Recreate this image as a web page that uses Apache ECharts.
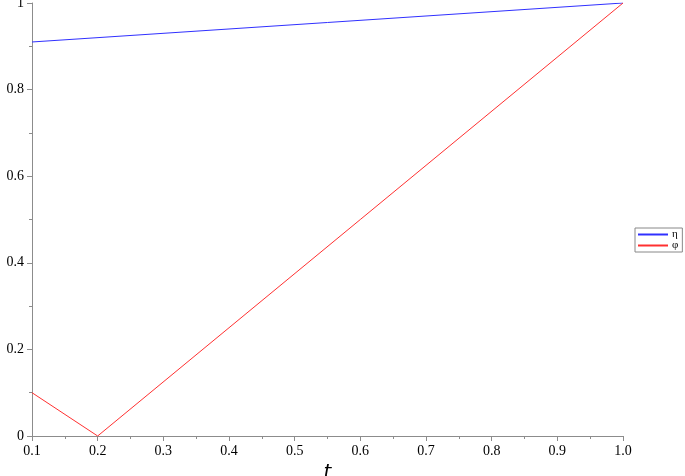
<!DOCTYPE html>
<html>
<head>
<meta charset="utf-8">
<script src="https://cdn.jsdelivr.net/npm/echarts@6/dist/echarts.min.js"></script>
<style>
  html, body { margin: 0; padding: 0; background: #fff; }
  #chart { width: 685px; height: 476px; }
</style>
</head>
<body>
<div id="chart"></div>
<script>
// data
var etaPoints = [[0.1, 0.91], [1.0, 1.0]];
var phiPoints = [[0.1, 0.1], [0.2, 0.0], [1.0, 1.0]];
var seriesNames = ["η", "φ"];

var chart = echarts.init(document.getElementById("chart"));
var axisGray = "#8c8c8c";
var serif = "'Liberation Serif', 'DejaVu Serif', serif";

chart.setOption({
  animation: false,
  grid: { left: 32, right: 62, top: 3, bottom: 40, containLabel: false, outerBoundsMode: "none" },
  legend: {
    orient: "vertical",
    left: 635,
    top: 228,
    padding: [1, 4, 1, 3],
    itemGap: 0,
    itemWidth: 30,
    itemHeight: 2,
    icon: "rect",
    borderColor: "#888",
    borderWidth: 1,
    borderRadius: 0,
    textStyle: { fontSize: 11, fontFamily: serif, color: "#000", padding: [0, 0, 0, -1], lineHeight: 9 },
    data: seriesNames
  },
  xAxis: {
    type: "value",
    min: 0.1,
    max: 1.0,
    interval: 0.1,
    name: "t",
    nameLocation: "middle",
    nameGap: 22,
    nameTextStyle: { fontSize: 20, fontStyle: "italic", fontFamily: "'DejaVu Sans', sans-serif", color: "#000" },
    axisLine: { onZero: false, lineStyle: { color: axisGray } },
    axisTick: { inside: false, length: 5, lineStyle: { color: axisGray } },
    minorTick: { show: true, splitNumber: 2, length: 3, lineStyle: { color: axisGray } },
    axisLabel: {
      fontSize: 14,
      fontFamily: serif,
      color: "#000",
      margin: 8,
      formatter: function (v) { return v.toFixed(1); }
    },
    splitLine: { show: false }
  },
  yAxis: {
    type: "value",
    min: 0,
    max: 1,
    interval: 0.2,
    axisLine: { show: true, lineStyle: { color: axisGray } },
    axisTick: { show: true, length: 5, lineStyle: { color: axisGray } },
    minorTick: { show: true, splitNumber: 2, length: 3, lineStyle: { color: axisGray } },
    axisLabel: {
      fontSize: 14,
      fontFamily: serif,
      color: "#000",
      margin: 8,
      formatter: function (v) { return v === 0 || v === 1 ? String(v) : v.toFixed(1); }
    },
    splitLine: { show: false }
  },
  series: [
    {
      name: seriesNames[0],
      type: "line",
      data: etaPoints,
      symbol: "none",
      lineStyle: { color: "#3030ff", width: 1 },
      itemStyle: { color: "#3030ff" }
    },
    {
      name: seriesNames[1],
      type: "line",
      data: phiPoints,
      symbol: "none",
      lineStyle: { color: "#ff3030", width: 1 },
      itemStyle: { color: "#ff3030" }
    }
  ]
});
</script>
</body>
</html>
